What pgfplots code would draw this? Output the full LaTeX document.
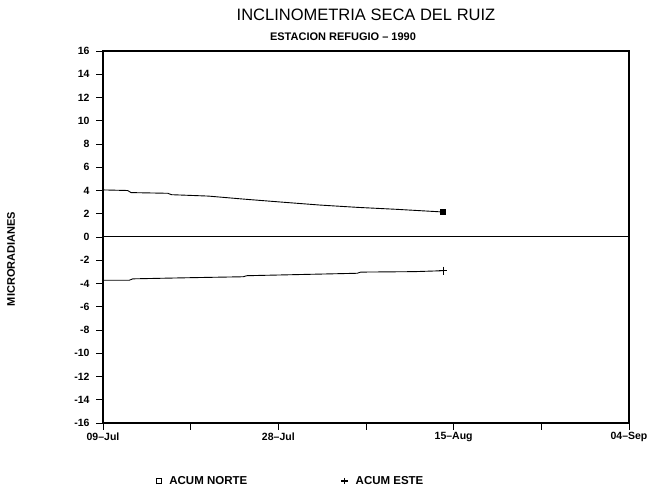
\documentclass[border=0pt]{standalone}
\usepackage{fontspec}
\setmainfont{Liberation Sans}
\usepackage{pgfplots}
\pgfplotsset{compat=1.18}
\begin{document}
\begin{tikzpicture}[x=1pt,y=1pt]
\useasboundingbox (0,0) rectangle (665,495);
\begin{axis}[
  at={(103pt,72pt)}, anchor=south west,
  scale only axis, width=526pt, height=372pt,
  xmin=0, xmax=6, ymin=-16, ymax=16,
  xtick={0,1,2,3,4,5,6},
  xticklabels={09--Jul,,28--Jul,,15--Aug,,04--Sep},
  ytick={-16,-14,...,16},
  xtick pos=bottom, ytick pos=left,
  tick align=outside,
  major tick length=7pt,
  axis line style={line width=1.1pt},
  tick style={black, line width=0.8pt},
  /pgf/number format/assume math mode=true,
  tick label style={font=\fontsize{10.5}{11}\selectfont\bfseries},
  yticklabel style={xshift=-3pt},
  xticklabel style={yshift=1pt},
  legend columns=2,
  legend style={at={(axis description cs:0.095,-0.156)}, anchor=west, draw=none, fill=none,
    font=\fontsize{11.5}{12}\selectfont\bfseries,
    /tikz/every even column/.append style={column sep=92pt},
    /tikz/every odd column/.append style={column sep=6pt}},
  clip=false,
]
\addlegendimage{only marks, mark=square, mark size=2.6pt, black, line width=1.1pt}
\addlegendentry{ACUM NORTE}
\addlegendimage{only marks, mark=+, mark size=3.2pt, black, line width=1.1pt}
\addlegendentry{ACUM ESTE}

\addplot[black, line width=1pt, forget plot] coordinates {(0,0) (6,0)};

\addplot[black, line width=0.9pt, mark=square*, mark size=2.5pt, mark indices={12}, forget plot] coordinates {
 (0,4.05) (0.28,4.0) (0.32,3.82) (0.74,3.76) (0.78,3.64) (1.2,3.52) (1.62,3.25) (2.04,3.0) (2.47,2.75) (2.9,2.55) (3.35,2.38) (3.88,2.15)
};
\addplot[black, line width=0.9pt, mark=+, mark size=4pt, mark indices={11}, forget plot] coordinates {
 (0,-3.72) (0.3,-3.72) (0.34,-3.6) (1.0,-3.5) (1.6,-3.42) (1.64,-3.33) (2.3,-3.22) (2.9,-3.12) (2.94,-3.02) (3.55,-2.98) (3.88,-2.9)
};
\end{axis}
\node at (366,480) {\fontsize{16.5}{18}\selectfont INCLINOMETRIA SECA DEL RUIZ};
\node at (343,458) {\fontsize{11}{12}\selectfont\bfseries ESTACION REFUGIO -- 1990};
\node[rotate=90] at (11,236) {\fontsize{11}{12}\selectfont\bfseries MICRORADIANES};
\end{tikzpicture}
\end{document}
